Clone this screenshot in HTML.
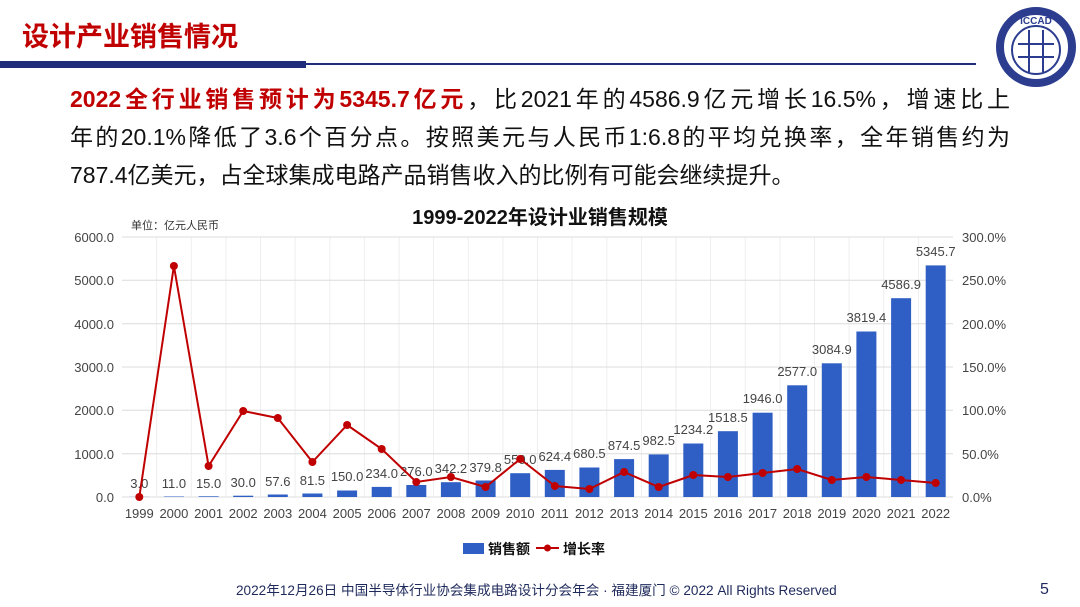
<!DOCTYPE html>
<html><head><meta charset="utf-8"><style>
body{margin:0;width:1080px;height:607px;background:#fff;overflow:hidden;font-family:"Liberation Sans","Noto Sans CJK SC",sans-serif;position:relative}
.t{position:absolute;left:22px;top:15px;font-size:27px;font-weight:bold;color:#c00000}
.p{position:absolute;left:70px;top:80px;width:940px;font-size:23px;line-height:38px;color:#111}
.p div{text-align:justify;text-align-last:justify;white-space:nowrap;overflow:visible}
.p div.l{text-align-last:left}
.p b{color:#c00000}
.f{position:absolute;left:236px;top:579px;font-size:13.6px;color:#1f2a5c}
</style></head><body>
<div class="t">设计产业销售情况</div>
<div style="position:absolute;left:0;top:61px;width:306px;height:7px;background:#1f2d7a"></div>
<div style="position:absolute;left:306px;top:63px;width:670px;height:2px;background:#1f2d7a"></div>
<svg style="position:absolute;left:994px;top:6px" width="84" height="82"><circle cx="42" cy="41" r="36" fill="#fff" stroke="#2c3d8f" stroke-width="8"/><circle cx="42" cy="44" r="24" fill="#fff" stroke="#2c3d8f" stroke-width="2"/><g stroke="#2c3d8f" stroke-width="2"><line x1="24" y1="38" x2="60" y2="38"/><line x1="24" y1="51" x2="60" y2="51"/><line x1="35" y1="24" x2="35" y2="66"/><line x1="49" y1="24" x2="49" y2="66"/></g><text x="42" y="18" font-size="10" fill="#2c3d8f" text-anchor="middle" font-weight="bold">ICCAD</text></svg>
<div class="p"><div><b>2022全行业销售预计为5345.7亿元</b>，比2021年的4586.9亿元增长16.5%，增速比上</div><div>年的20.1%降低了3.6个百分点。按照美元与人民币1:6.8的平均兑换率，全年销售约为</div><div class="l">787.4亿美元，占全球集成电路产品销售收入的比例有可能会继续提升。</div></div>
<svg style="position:absolute;left:0;top:0" width="1080" height="607" font-family="Liberation Sans,Noto Sans CJK SC,sans-serif">
<text x="540" y="224" font-size="20" font-weight="bold" text-anchor="middle" fill="#111">1999-2022年设计业销售规模</text>
<text x="131" y="229" font-size="11" fill="#333">单位：亿元人民币</text>
<g stroke="#eeeeee" stroke-width="1">
<line x1="156.6" y1="237" x2="156.6" y2="497"/><line x1="191.3" y1="237" x2="191.3" y2="497"/><line x1="225.9" y1="237" x2="225.9" y2="497"/><line x1="260.5" y1="237" x2="260.5" y2="497"/><line x1="295.1" y1="237" x2="295.1" y2="497"/><line x1="329.8" y1="237" x2="329.8" y2="497"/><line x1="364.4" y1="237" x2="364.4" y2="497"/><line x1="399" y1="237" x2="399" y2="497"/><line x1="433.6" y1="237" x2="433.6" y2="497"/><line x1="468.3" y1="237" x2="468.3" y2="497"/><line x1="502.9" y1="237" x2="502.9" y2="497"/><line x1="537.5" y1="237" x2="537.5" y2="497"/><line x1="572.1" y1="237" x2="572.1" y2="497"/><line x1="606.8" y1="237" x2="606.8" y2="497"/><line x1="641.4" y1="237" x2="641.4" y2="497"/><line x1="676" y1="237" x2="676" y2="497"/><line x1="710.6" y1="237" x2="710.6" y2="497"/><line x1="745.3" y1="237" x2="745.3" y2="497"/><line x1="779.9" y1="237" x2="779.9" y2="497"/><line x1="814.5" y1="237" x2="814.5" y2="497"/><line x1="849.1" y1="237" x2="849.1" y2="497"/><line x1="883.8" y1="237" x2="883.8" y2="497"/><line x1="918.4" y1="237" x2="918.4" y2="497"/>
</g>
<g stroke="#dcdcdc" stroke-width="1">
<line x1="122" y1="237" x2="953" y2="237"/><line x1="122" y1="280.3" x2="953" y2="280.3"/><line x1="122" y1="323.7" x2="953" y2="323.7"/><line x1="122" y1="367" x2="953" y2="367"/><line x1="122" y1="410.3" x2="953" y2="410.3"/><line x1="122" y1="453.7" x2="953" y2="453.7"/><line x1="122" y1="497" x2="953" y2="497"/>
</g>
<g font-size="13" fill="#444" text-anchor="end">
<text x="114" y="242">6000.0</text><text x="114" y="285">5000.0</text><text x="114" y="329">4000.0</text><text x="114" y="372">3000.0</text><text x="114" y="415">2000.0</text><text x="114" y="459">1000.0</text><text x="114" y="502">0.0</text>
</g>
<g font-size="13" fill="#444">
<text x="962" y="242">300.0%</text><text x="962" y="285">250.0%</text><text x="962" y="329">200.0%</text><text x="962" y="372">150.0%</text><text x="962" y="415">100.0%</text><text x="962" y="459">50.0%</text><text x="962" y="502">0.0%</text>
</g>
<g fill="#2f5fc4">
<rect x="129.3" y="496.9" width="20" height="0.1"/><rect x="163.9" y="496.5" width="20" height="0.5"/><rect x="198.6" y="496.3" width="20" height="0.7"/><rect x="233.2" y="495.7" width="20" height="1.3"/><rect x="267.8" y="494.5" width="20" height="2.5"/><rect x="302.4" y="493.5" width="20" height="3.5"/><rect x="337.1" y="490.5" width="20" height="6.5"/><rect x="371.7" y="486.9" width="20" height="10.1"/><rect x="406.3" y="485" width="20" height="12"/><rect x="440.9" y="482.2" width="20" height="14.8"/><rect x="475.6" y="480.5" width="20" height="16.5"/><rect x="510.2" y="473.2" width="20" height="23.8"/><rect x="544.8" y="469.9" width="20" height="27.1"/><rect x="579.4" y="467.5" width="20" height="29.5"/><rect x="614.1" y="459.1" width="20" height="37.9"/><rect x="648.7" y="454.4" width="20" height="42.6"/><rect x="683.3" y="443.5" width="20" height="53.5"/><rect x="717.9" y="431.2" width="20" height="65.8"/><rect x="752.6" y="412.7" width="20" height="84.3"/><rect x="787.2" y="385.3" width="20" height="111.7"/><rect x="821.8" y="363.3" width="20" height="133.7"/><rect x="856.4" y="331.5" width="20" height="165.5"/><rect x="891.1" y="298.2" width="20" height="198.8"/><rect x="925.7" y="265.4" width="20" height="231.6"/>
</g>
<g font-size="13" fill="#444" text-anchor="middle">
<text x="139.3" y="488">3.0</text><text x="173.9" y="488">11.0</text><text x="208.6" y="488">15.0</text><text x="243.2" y="487">30.0</text><text x="277.8" y="486">57.6</text><text x="312.4" y="485">81.5</text><text x="347.1" y="481">150.0</text><text x="381.7" y="478">234.0</text><text x="416.3" y="476">276.0</text><text x="450.9" y="473">342.2</text><text x="485.6" y="472">379.8</text><text x="520.2" y="464">550.0</text><text x="554.8" y="461">624.4</text><text x="589.4" y="458">680.5</text><text x="624.1" y="450">874.5</text><text x="658.7" y="445">982.5</text><text x="693.3" y="434">1234.2</text><text x="727.9" y="422">1518.5</text><text x="762.6" y="403">1946.0</text><text x="797.2" y="376">2577.0</text><text x="831.8" y="354">3084.9</text><text x="866.4" y="322">3819.4</text><text x="901.1" y="289">4586.9</text><text x="935.7" y="256">5345.7</text>
</g>
<polyline fill="none" stroke="#c00000" stroke-width="2" points="139.3,497 173.9,266 208.6,466 243.2,411 277.8,418 312.4,462 347.1,425 381.7,449 416.3,482 450.9,477 485.6,487 520.2,459 554.8,486 589.4,489 624.1,472 658.7,487 693.3,475 727.9,477 762.6,473 797.2,469 831.8,480 866.4,477 901.1,480 935.7,483"/>
<g fill="#c00000">
<circle cx="139.3" cy="497" r="4"/><circle cx="173.9" cy="266" r="4"/><circle cx="208.6" cy="466" r="4"/><circle cx="243.2" cy="411" r="4"/><circle cx="277.8" cy="418" r="4"/><circle cx="312.4" cy="462" r="4"/><circle cx="347.1" cy="425" r="4"/><circle cx="381.7" cy="449" r="4"/><circle cx="416.3" cy="482" r="4"/><circle cx="450.9" cy="477" r="4"/><circle cx="485.6" cy="487" r="4"/><circle cx="520.2" cy="459" r="4"/><circle cx="554.8" cy="486" r="4"/><circle cx="589.4" cy="489" r="4"/><circle cx="624.1" cy="472" r="4"/><circle cx="658.7" cy="487" r="4"/><circle cx="693.3" cy="475" r="4"/><circle cx="727.9" cy="477" r="4"/><circle cx="762.6" cy="473" r="4"/><circle cx="797.2" cy="469" r="4"/><circle cx="831.8" cy="480" r="4"/><circle cx="866.4" cy="477" r="4"/><circle cx="901.1" cy="480" r="4"/><circle cx="935.7" cy="483" r="4"/>
</g>
<g font-size="13" fill="#444" text-anchor="middle">
<text x="139.3" y="518">1999</text><text x="173.9" y="518">2000</text><text x="208.6" y="518">2001</text><text x="243.2" y="518">2002</text><text x="277.8" y="518">2003</text><text x="312.4" y="518">2004</text><text x="347.1" y="518">2005</text><text x="381.7" y="518">2006</text><text x="416.3" y="518">2007</text><text x="450.9" y="518">2008</text><text x="485.6" y="518">2009</text><text x="520.2" y="518">2010</text><text x="554.8" y="518">2011</text><text x="589.4" y="518">2012</text><text x="624.1" y="518">2013</text><text x="658.7" y="518">2014</text><text x="693.3" y="518">2015</text><text x="727.9" y="518">2016</text><text x="762.6" y="518">2017</text><text x="797.2" y="518">2018</text><text x="831.8" y="518">2019</text><text x="866.4" y="518">2020</text><text x="901.1" y="518">2021</text><text x="935.7" y="518">2022</text>
</g>
<rect x="463" y="543" width="21" height="11" fill="#2f5fc4"/>
<text x="488" y="554" font-size="14" font-weight="bold" fill="#111">销售额</text>
<line x1="536" y1="548" x2="559" y2="548" stroke="#c00000" stroke-width="2"/><circle cx="547.5" cy="548" r="3.5" fill="#c00000"/>
<text x="563" y="554" font-size="14" font-weight="bold" fill="#111">增长率</text>
<text x="1040" y="594" font-size="16" fill="#1f2a5c">5</text>
</svg>
<div class="f">2022年12月26日 中国半导体行业协会集成电路设计分会年会 · 福建厦门 © 2022 All Rights Reserved</div>
</body></html>
